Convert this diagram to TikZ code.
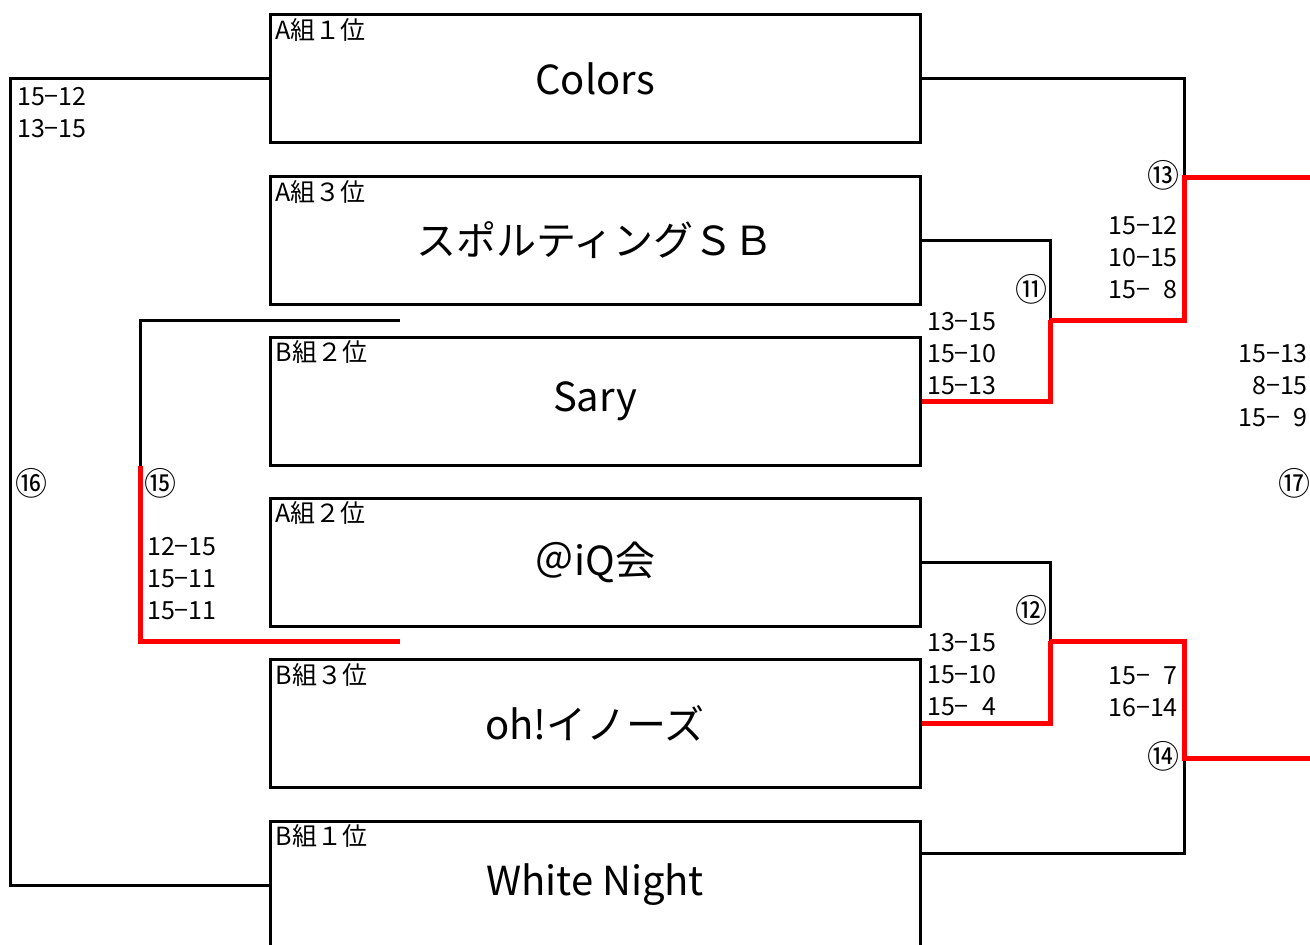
\documentclass[tikz,border=0pt]{standalone}
\usepackage{fontspec}
\setmainfont{Noto Sans CJK JP}
\begin{document}
\begin{tikzpicture}[x=1pt,y=-1pt,
  team/.style={draw,line width=3pt,minimum width=650pt,minimum height=128pt,inner sep=0pt,font=\fontsize{40}{40}\selectfont},
  grp/.style={anchor=west,inner sep=0pt,font=\fontsize{25}{25}\selectfont},
  score/.style={inner sep=0pt,font=\fontsize{25}{32}\selectfont},
  circ/.style={inner sep=0pt,font=\fontsize{32}{32}\selectfont},
  wire/.style={line width=3pt},
  win/.style={line width=5pt,red},
]
\useasboundingbox (0,0) rectangle (1310,945);
\clip (0,0) rectangle (1310,945);
% teams
\node[team] (t1) at (595,78.5) {Colors};
\node[team] (t2) at (595,240.5) {スポルティングＳＢ};
\node[team] (t3) at (595,401) {Sary};
\node[team] (t4) at (595,562) {＠iQ会};
\node[team] (t5) at (595,723.5) {oh!イノーズ};
\node[team] (t6) at (595,885) {White Night};
% group labels
\node[grp] (g1) at ([xshift=7pt,yshift=-17pt]t1.north west) {A組１位};
\node[grp] (g2) at ([xshift=7pt,yshift=-17pt]t2.north west) {A組３位};
\node[grp] (g3) at ([xshift=7pt,yshift=-17pt]t3.north west) {B組２位};
\node[grp] (g4) at ([xshift=7pt,yshift=-17pt]t4.north west) {A組２位};
\node[grp] (g5) at ([xshift=7pt,yshift=-17pt]t5.north west) {B組３位};
\node[grp] (g6) at ([xshift=7pt,yshift=-17pt]t6.north west) {B組１位};
% coordinates
\coordinate (k16a) at (10,78.5);
\coordinate (p15a) at (400,320);
\coordinate (p15b) at (400,641);
\coordinate (m15) at (140,466);
\coordinate (j11) at (1050,320);
\coordinate (j13) at (1184,177);
\coordinate (f13) at (1310,177);
\coordinate (j12) at (1050,641);
\coordinate (j14) at (1184,758);
\coordinate (f14) at (1310,758);
% black lines
\draw[wire] (t1.west) -- (k16a) |- (t6.west);
\draw[wire] (p15a) -| (m15);
\draw[wire] (t2.east) -| (j11);
\draw[wire] (t1.east) -| (j13);
\draw[wire] (t4.east) -| (j12);
\draw[wire] ([yshift=32pt]t6.east) -| (j14);
% red lines
\draw[win] (m15) |- (p15b);
\draw[win] (t3.east) -| (j11);
\draw[win] (j11) -| (j13) -- (f13);
\draw[win] (t5.east) -| (j12);
\draw[win] (j12) -| (j14) -- (f14);
% scores
\node[score,anchor=west,align=left] (s16) at (17,112.5) {15−12\\13−15};
\node[score,anchor=west,align=left] (s15) at (147,579) {12−15\\15−11\\15−11};
\node[score,anchor=west,align=left] (s11) at (927,353.5) {13−15\\15−10\\15−13};
\node[score,anchor=east,align=right] (s13) at (1178,258) {15−12\\10−15\\15−\phantom{1}8};
\node[score,anchor=west,align=left] (s12) at (927,675) {13−15\\15−10\\15−\phantom{1}4};
\node[score,anchor=east,align=right] (s14) at (1178,691.5) {15−\phantom{1}7\\16−14};
\node[score,anchor=east,align=right] (s17) at (1308,386) {15−13\\8−15\\15−\phantom{1}9};
% match numbers
\node[circ] (n16) at (32,483) {⑯};
\node[circ] (n15) at (160,483) {⑮};
\node[circ] (n11) at (1031,289) {⑪};
\node[circ] (n13) at (1163,175) {⑬};
\node[circ] (n12) at (1031,610) {⑫};
\node[circ] (n14) at (1163,756) {⑭};
\node[circ] (n17) at (1294,483) {⑰};
\end{tikzpicture}
\end{document}
